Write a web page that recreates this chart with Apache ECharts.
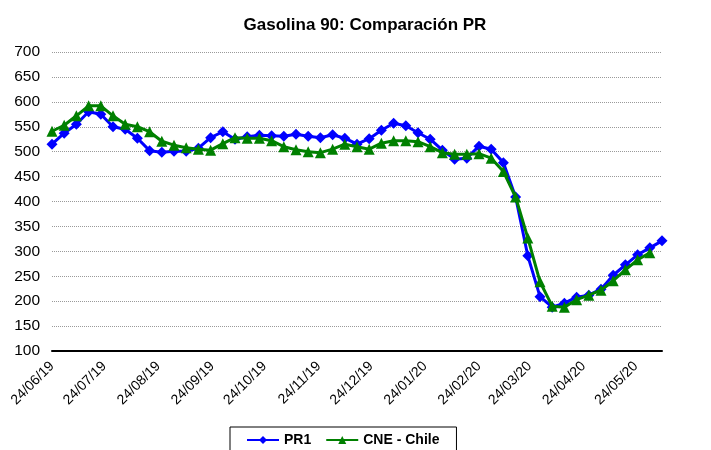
<!DOCTYPE html>
<html>
<head>
<meta charset="utf-8">
<script src="https://cdn.jsdelivr.net/npm/echarts@6/dist/echarts.min.js"></script>
<style>
  html, body { margin: 0; padding: 0; background: #fff; }
  #chart { width: 711px; height: 450px; }
</style>
</head>
<body>
<div id="chart"></div>
<script>
// fechas semanales
var dates = [
  '2019-06-24','2019-07-01','2019-07-08','2019-07-15','2019-07-22','2019-07-29','2019-08-05','2019-08-12',
  '2019-08-19','2019-08-26','2019-09-02','2019-09-09','2019-09-16','2019-09-23','2019-09-30','2019-10-07',
  '2019-10-14','2019-10-21','2019-10-28','2019-11-04','2019-11-11','2019-11-18','2019-11-25','2019-12-02',
  '2019-12-09','2019-12-16','2019-12-23','2019-12-30','2020-01-06','2020-01-13','2020-01-20','2020-01-27',
  '2020-02-03','2020-02-10','2020-02-17','2020-02-24','2020-03-02','2020-03-09','2020-03-16','2020-03-23',
  '2020-03-30','2020-04-06','2020-04-13','2020-04-20','2020-04-27','2020-05-04','2020-05-11','2020-05-18',
  '2020-05-25','2020-06-01','2020-06-08'
];
var pr1 = [
  515, 537, 555, 580, 575, 550, 545, 527, 502, 499, 501, 501, 507, 528, 540, 525,
  530, 533, 532, 531, 535, 531, 528, 534, 527, 515, 526, 543, 557, 552, 538, 525,
  503, 485, 487, 511, 505, 478, 409, 291, 209, 188, 196, 208, 212, 224, 252, 273,
  293, 307, 321
];
var cne = [
  541, 553, 572, 592, 592, 572, 555, 550, 540, 521, 513, 508, 505, 503, 516, 528,
  527, 527, 522, 510, 504, 500, 498, 505, 515, 510, 505, 517, 522, 522, 520, 510,
  498, 495, 495, 496, 487, 460, 409, 327, 239, 190, 188, 203, 212, 222, 241, 263,
  283, 297
];
var monthTicks = [
  '2019-06-24','2019-07-24','2019-08-24','2019-09-24','2019-10-24','2019-11-24',
  '2019-12-24','2020-01-24','2020-02-24','2020-03-24','2020-04-24','2020-05-24'
];
var yMin = 100, yMax = 700, yStep = 50;

// días desde el 24/06/19
var DAY = 86400000;
var t0 = Date.UTC(2019, 5, 24);
function toDay(s) {
  var p = s.split('-');
  return Math.round((Date.UTC(+p[0], +p[1] - 1, +p[2]) - t0) / DAY);
}
function pad(n) { return (n < 10 ? '0' : '') + n; }
function fmt(v) {
  var d = new Date(t0 + Math.round(v) * DAY);
  return pad(d.getUTCDate()) + '/' + pad(d.getUTCMonth() + 1) + '/' + pad(d.getUTCFullYear() % 100);
}

var pr1Data = pr1.map(function (v, i) { return [toDay(dates[i]), v]; });
var cneData = cne.map(function (v, i) { return [toDay(dates[i]), v]; });

var chart = echarts.init(document.getElementById('chart'));
var option = {
  animation: false,
  backgroundColor: '#fff',
  textStyle: { fontFamily: 'Liberation Sans, Arial, sans-serif' },
  title: {
    text: 'Gasolina 90: Comparación PR',
    left: 360, top: 12, textAlign: 'center',
    textStyle: { fontSize: 17, fontWeight: 'bold', color: '#000', fontFamily: 'Liberation Sans, Arial, sans-serif' }
  },
  legend: {
    left: 230, top: 427,
    padding: [6, 17, 8, 16],
    borderColor: '#000', borderWidth: 1, borderRadius: 0,
    itemWidth: 32, itemHeight: 10, itemGap: 14,
    textStyle: { fontSize: 14, fontWeight: 'bold', color: '#000' },
    data: ['PR1', 'CNE - Chile']
  },
  grid: { left: 52, right: 49, top: 52, bottom: 99, containLabel: false },
  xAxis: {
    type: 'value',
    min: 0,
    max: toDay('2020-06-08'),
    axisLine: { show: true, lineStyle: { color: '#000', width: 2 } },
    axisTick: { show: false },
    splitLine: { show: false },
    axisLabel: {
      customValues: monthTicks.map(toDay),
      rotate: 45, fontSize: 14, color: '#000', margin: 13,
      formatter: function (v) { return fmt(v); }
    }
  },
  yAxis: {
    type: 'value',
    min: yMin, max: yMax, interval: yStep,
    axisLine: { show: false },
    axisTick: { show: false },
    axisLabel: { fontSize: 15.5, color: '#000', margin: 12 },
    splitLine: { lineStyle: { color: '#9a9a9a', type: [1, 1], width: 1 } }
  },
  series: [
    {
      name: 'PR1', type: 'line', data: pr1Data,
      symbol: 'diamond', symbolSize: 11,
      lineStyle: { color: '#0000ff', width: 3 },
      itemStyle: { color: '#0000ff' },
      z: 2
    },
    {
      name: 'CNE - Chile', type: 'line', data: cneData,
      symbol: 'triangle', symbolSize: 11,
      lineStyle: { color: '#008000', width: 3 },
      itemStyle: { color: '#008000' },
      z: 3
    }
  ]
};
chart.setOption(option);
</script>
</body>
</html>
